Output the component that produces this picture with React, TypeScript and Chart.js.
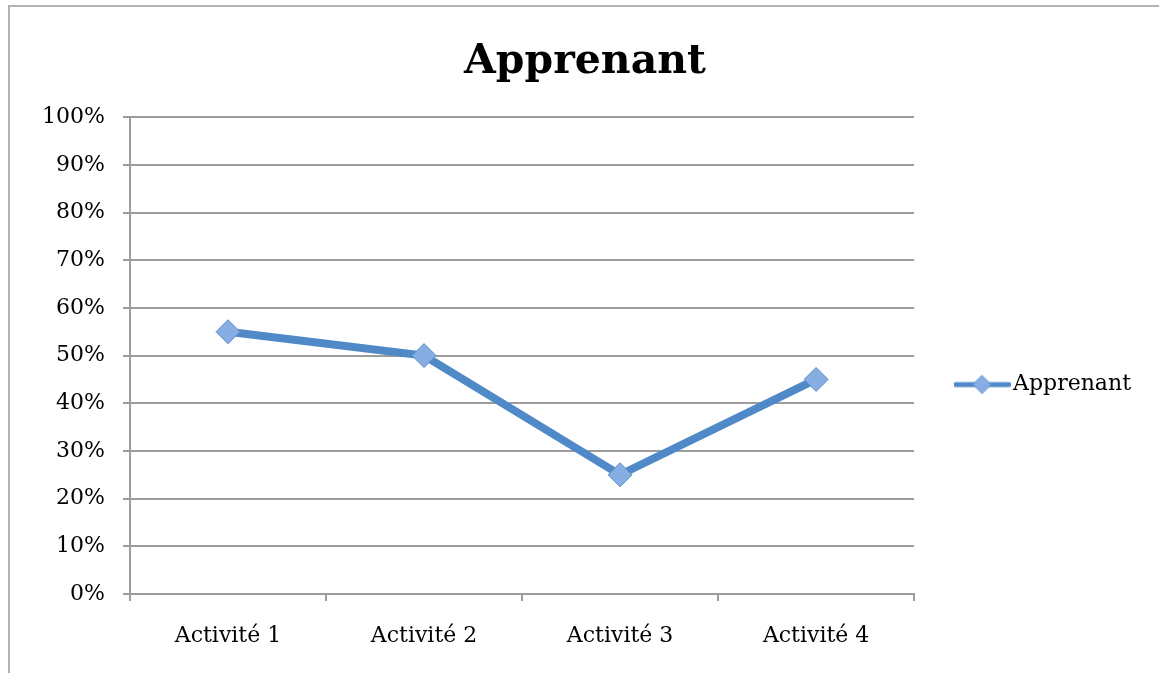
import React, { useEffect, useRef } from 'react';
import { Chart, registerables } from 'chart.js';

Chart.register(...registerables);

const chartTitle = 'Apprenant';
const categories = ['Activité 1', 'Activité 2', 'Activité 3', 'Activité 4'];
const seriesName = 'Apprenant';
const seriesValues = [55, 50, 25, 45];
const yTickLabels = ['0%', '10%', '20%', '30%', '40%', '50%', '60%', '70%', '80%', '90%', '100%'];

const FONT = "'DejaVu Serif', serif";
const LINE_COLOR = '#5089C8';
const MARKER_FILL = '#86AEE2';
const MARKER_BORDER = '#5C8DCB';
const GRID = '#9c9c9c';

function makeLegendIcon(): HTMLCanvasElement {
  const c = document.createElement('canvas');
  c.width = 57;
  c.height = 24;
  const g = c.getContext('2d')!;
  g.strokeStyle = LINE_COLOR;
  g.lineWidth = 5;
  g.lineCap = 'round';
  g.beginPath();
  g.moveTo(2, 12);
  g.lineTo(55, 12);
  g.stroke();
  g.beginPath();
  g.moveTo(28.5, 3);
  g.lineTo(37.5, 12);
  g.lineTo(28.5, 21);
  g.lineTo(19.5, 12);
  g.closePath();
  g.fillStyle = MARKER_FILL;
  g.fill();
  g.lineWidth = 1;
  g.strokeStyle = MARKER_BORDER;
  g.stroke();
  return c;
}

export default function App() {
  const ref = useRef<HTMLCanvasElement>(null);

  useEffect(() => {
    document.body.style.margin = '0';
    const icon = makeLegendIcon();
    const chart = new Chart(ref.current!, {
      type: 'line',
      data: {
        labels: categories,
        datasets: [
          {
            label: seriesName,
            data: seriesValues,
            borderColor: LINE_COLOR,
            borderWidth: 8,
            tension: 0,
            fill: false,
            pointStyle: 'rectRot',
            pointRadius: 12,
            pointBackgroundColor: MARKER_FILL,
            pointBorderColor: MARKER_BORDER,
            pointBorderWidth: 1,
          },
        ],
      },
      options: {
        animation: false,
        responsive: false,
        layout: { padding: { left: 29, right: 18 } },
        plugins: {
          title: {
            display: true,
            text: chartTitle,
            color: '#000',
            font: { family: FONT, size: 41, weight: 'bold' },
            padding: { top: 38, bottom: 30 },
          },
          legend: {
            position: 'right',
            align: 'center',
            fullSize: false,
            title: {
              display: true,
              text: ' ',
              color: '#000',
              font: { size: 10 },
              padding: { top: 46, bottom: 0 },
            },
            labels: {
              usePointStyle: true,
              pointStyleWidth: 40,
              padding: 48,
              color: '#000',
              font: { family: FONT, size: 22 },
              generateLabels: () => [
                {
                  text: seriesName,
                  fontColor: '#000',
                  pointStyle: icon as any,
                  fillStyle: MARKER_FILL,
                  strokeStyle: LINE_COLOR,
                  lineWidth: 0,
                  hidden: false,
                  datasetIndex: 0,
                } as any,
              ],
            },
          },
          tooltip: { enabled: false },
        },
        scales: {
          x: {
            offset: true,
            grid: {
              offset: true,
              drawOnChartArea: false,
              drawTicks: true,
              tickLength: 7,
              color: GRID,
              lineWidth: 2,
            },
            border: { color: GRID, width: 2 },
            ticks: { color: '#000', font: { family: FONT, size: 22 }, padding: 22 },
            afterFit: (s: any) => {
              s.height = 79;
            },
          },
          y: {
            min: 0,
            max: 100,
            grid: { color: GRID, lineWidth: 2, tickLength: 7 },
            border: { color: GRID, width: 2 },
            ticks: {
              stepSize: 10,
              color: '#000',
              font: { family: FONT, size: 22 },
              padding: 18,
              callback: (_v: any, i: number) => yTickLabels[i],
            },
            afterFit: (s: any) => {
              s.width = 101;
            },
          },
        },
      },
    });
    return () => chart.destroy();
  }, []);

  return (
    <div style={{ position: 'relative', width: 1159, height: 673, overflow: 'hidden', background: '#fff' }}>
      <div
        style={{
          position: 'absolute',
          left: 8,
          top: 5,
          width: 1170,
          height: 720,
          border: '2px solid #b3b3b3',
          boxSizing: 'border-box',
        }}
      />
      <canvas ref={ref} width={1159} height={673} style={{ position: 'absolute', left: 0, top: 0 }} />
    </div>
  );
}
